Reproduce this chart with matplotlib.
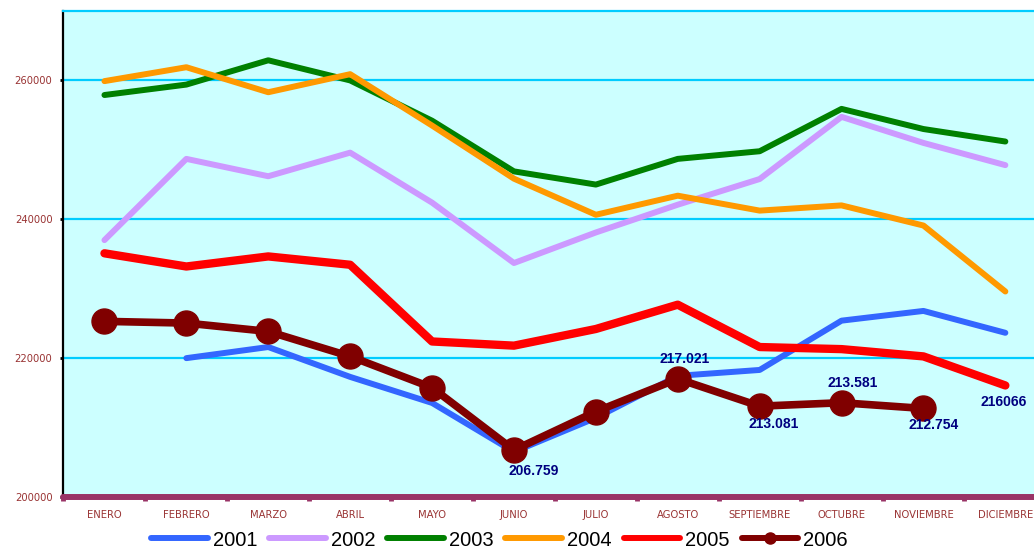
import numpy as np
import matplotlib.pyplot as plt

meses = ['ENERO', 'FEBRERO', 'MARZO', 'ABRIL', 'MAYO', 'JUNIO', 'JULIO',
         'AGOSTO', 'SEPTIEMBRE', 'OCTUBRE', 'NOVIEMBRE', 'DICIEMBRE']

# values (None = no data)
y2001 = [None, 220000, 221600, 217300, 213550, 206500, 211400,
         217450, 218300, 225400, 226800, 223650]
y2002 = [237000, 248700, 246200, 249600, 242400, 233700, 238100,
         242100, 245800, 254750, 251000, 247800]
y2003 = [257900, 259400, 262900, 260000, 254200, 246900, 245000,
         248700, 249800, 255900, 253000, 251200]
y2004 = [259900, 261900, 258300, 260900, 253500, 245850, 240650,
         243400, 241250, 242000, 239100, 229600]
y2005 = [235100, 233200, 234650, 233450, 222400, 221800, 224200,
         227700, 221600, 221300, 220250, 216066]
y2006 = [225300, 225050, 223850, 220250, 215750, 206759, 212300,
         217021, 213081, 213581, 212754, None]

# labelled points: (serie, month index, text, offset in points)
etiquetas = [
    ('2006', 5, '206.759', (14, -15)),
    ('2006', 7, '217.021', (5, 14.5)),
    ('2006', 8, '213.081', (10, -13)),
    ('2006', 9, '213.581', (8, 14)),
    ('2006', 10, '212.754', (7, -12)),
    ('2005', 11, '216066', (-1, -12)),
]

series = {'2001': y2001, '2002': y2002, '2003': y2003,
          '2004': y2004, '2005': y2005, '2006': y2006}
colores = {'2001': '#3366FF', '2002': '#CC99FF', '2003': '#008000',
           '2004': '#FF9900', '2005': '#FF0000', '2006': '#800000'}
grosor = {'2001': 4.3, '2002': 4.3, '2003': 4.3,
          '2004': 4.3, '2005': 6.0, '2006': 5.5}

fig = plt.figure(figsize=(10.34, 5.49), dpi=100)
ax = fig.add_axes([63.5 / 1034, 52 / 549, 982.8 / 1034, 486 / 549])
ax.set_facecolor('#CCFFFF')

x = np.arange(len(meses))
for nombre, vals in series.items():
    v = np.array([np.nan if a is None else a for a in vals], dtype=float)
    if nombre == '2006':
        ax.plot(x, v, color=colores[nombre], lw=grosor[nombre], marker='o',
                markersize=18, solid_capstyle='round', label=nombre, zorder=5)
    else:
        ax.plot(x, v, color=colores[nombre], lw=grosor[nombre],
                solid_capstyle='round', label=nombre, zorder=3)

for nombre, i, txt, off in etiquetas:
    ax.annotate(txt, (x[i], series[nombre][i]), xytext=off,
                textcoords='offset points', ha='center', va='center',
                fontsize=10, fontweight='bold', color='#000080',
                family='Liberation Sans', zorder=6)

ax.set_xlim(-0.5, 11.5)
ax.set_ylim(200000, 270000)
ax.set_yticks([200000, 220000, 240000, 260000])
ax.set_yticklabels(['200000', '220000', '240000', '260000'])
ax.yaxis.grid(True, color='#00CCFF', lw=1.6, zorder=1)
ax.set_axisbelow(True)

ax.set_xticks(x)
ax.set_xticklabels(meses)
ax.set_xticks(np.arange(-0.5, 12, 1), minor=True)
ax.tick_params(axis='x', which='major', length=0, pad=9, labelsize=7.2,
               labelcolor='#993333')
ax.tick_params(axis='x', which='minor', length=3, width=3.5,
               color='#993366', direction='out')
ax.tick_params(axis='y', length=2, width=2, color='black', pad=6,
               labelsize=7.2, labelcolor='#993333')

ax.spines['bottom'].set_color('#993366')
ax.spines['bottom'].set_linewidth(4.3)
ax.spines['bottom'].set_capstyle('round')
ax.spines['bottom'].set_zorder(7)
ax.spines['left'].set_color('black')
ax.spines['left'].set_linewidth(1.6)
ax.spines['top'].set_color('#00CCFF')
ax.spines['top'].set_linewidth(1.6)
ax.spines['right'].set_visible(False)

leg = fig.legend(loc='center', bbox_to_anchor=(0.483, 9 / 549), ncol=6,
                 frameon=False, prop={'family': 'Liberation Sans', 'size': 14.5},
                 handlelength=2.8, handletextpad=0.25, columnspacing=0.6,
                 borderaxespad=0)
for h in leg.legend_handles:
    h.set_linewidth(4.3)
    h.set_solid_capstyle('round')
    if h.get_label() == '2006':
        h.set_markersize(8)

fig.savefig('out.png', dpi=100)
